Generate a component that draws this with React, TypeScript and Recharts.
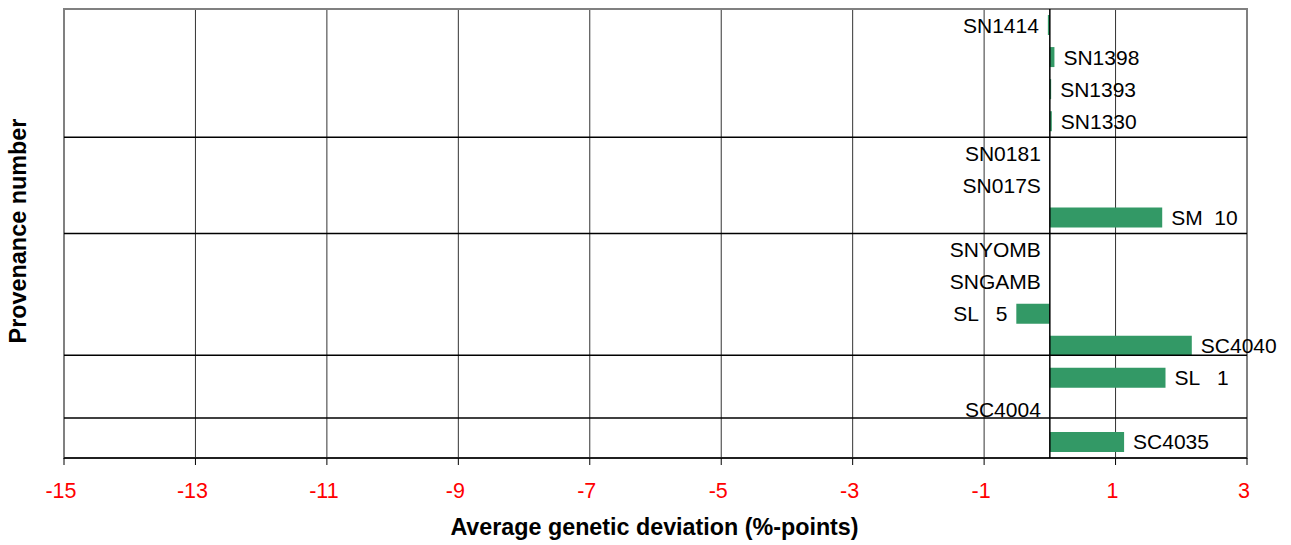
import React from 'react';
import {
  ComposedChart,
  Bar,
  Scatter,
  XAxis,
  YAxis,
  CartesianGrid,
  ReferenceLine,
  ReferenceArea,
} from 'recharts';

const categories = [
  'SN1414', 'SN1398', 'SN1393', 'SN1330', 'SN0181', 'SN017S', 'SM  10',
  'SNYOMB', 'SNGAMB', 'SL   5', 'SC4040', 'SL   1', 'SC4004', 'SC4035',
];
const values = [-0.03, 0.07, 0.02, 0.03, 0, 0, 1.71, 0, 0, -0.51, 2.16, 1.76, 0, 1.13];
const xTicks = [-15, -13, -11, -9, -7, -5, -3, -1, 1, 3];
const groupBoundaries = [4, 7, 10.8, 12.75];

// each provenance sits in the middle of its own row slot
const data = categories.map((name, i) => ({ name, value: values[i], pos: i + 0.5 }));

const FONT = '"Liberation Sans", Arial, sans-serif';

const LabelShape = (props: any) => {
  const { cx, cy, payload } = props;
  const pos = payload.value > 0;
  return (
    <text
      x={pos ? cx + 9 : cx - 9}
      y={cy}
      textAnchor={pos ? 'start' : 'end'}
      dominantBaseline="central"
      fontFamily={FONT}
      fontSize={21}
      fill="#000"
      style={{ whiteSpace: 'pre' }}
    >
      {payload.name}
    </text>
  );
};

const XTick = (props: any) => {
  const { x, payload } = props;
  return (
    <text x={x - 3} y={491} textAnchor="middle" dominantBaseline="central" fontFamily={FONT} fontSize={21.5} fill="#ff0000">
      {payload.value}
    </text>
  );
};

const XTitle = (props: any) => {
  const vb = props.viewBox || {};
  const cx = (vb.x ?? 64) + (vb.width ?? 1183) / 2;
  return (
    <text x={cx - 1} y={527} textAnchor="middle" dominantBaseline="central" fontFamily={FONT} fontSize={23.3} fontWeight="bold" fill="#000">
      Average genetic deviation (%-points)
    </text>
  );
};

const YTitle = () => (
  <text
    x={18}
    y={231}
    transform="rotate(-90 18 231)"
    textAnchor="middle"
    dominantBaseline="central"
    fontFamily={FONT}
    fontSize={23.4}
    fontWeight="bold"
    fill="#000"
  >
    Provenance number
  </text>
);

export default function App() {
  return (
    <div style={{ position: 'absolute', left: 0, top: 0, width: 1291, height: 545, background: '#fff' }}>
      <ComposedChart
        width={1291}
        height={545}
        data={data}
        layout="vertical"
        margin={{ top: 9, right: 44, bottom: 27, left: 0 }}
      >
        <CartesianGrid horizontal={false} vertical stroke="#333" strokeWidth={1} />
        <XAxis
          type="number"
          dataKey="value"
          domain={[-15, 3]}
          ticks={xTicks}
          interval={0}
          height={60}
          axisLine={{ stroke: '#000', strokeWidth: 1.5 }}
          tickLine={{ stroke: '#000', strokeWidth: 1 }}
          tickSize={7}
          tick={<XTick />}
          label={<XTitle />}
        />
        <YAxis
          type="number"
          dataKey="pos"
          domain={[0, 14]}
          width={64}
          tick={false}
          tickLine={false}
          axisLine={false}
          label={<YTitle />}
        />
        <ReferenceArea
          x1={-15}
          x2={3}
          y1={0}
          y2={14}
          fill="none"
          fillOpacity={0}
          stroke="#808080"
          strokeWidth={2}
        />
        <ReferenceLine x={0} stroke="#000" strokeWidth={1.5} />
        {groupBoundaries.map((b) => (
          <ReferenceLine key={b} y={b} stroke="#000" strokeWidth={1.5} />
        ))}
        <Bar dataKey="value" fill="#339966" barSize={20} isAnimationActive={false} />
        <Scatter dataKey="value" shape={<LabelShape />} isAnimationActive={false} />
      </ComposedChart>
    </div>
  );
}
